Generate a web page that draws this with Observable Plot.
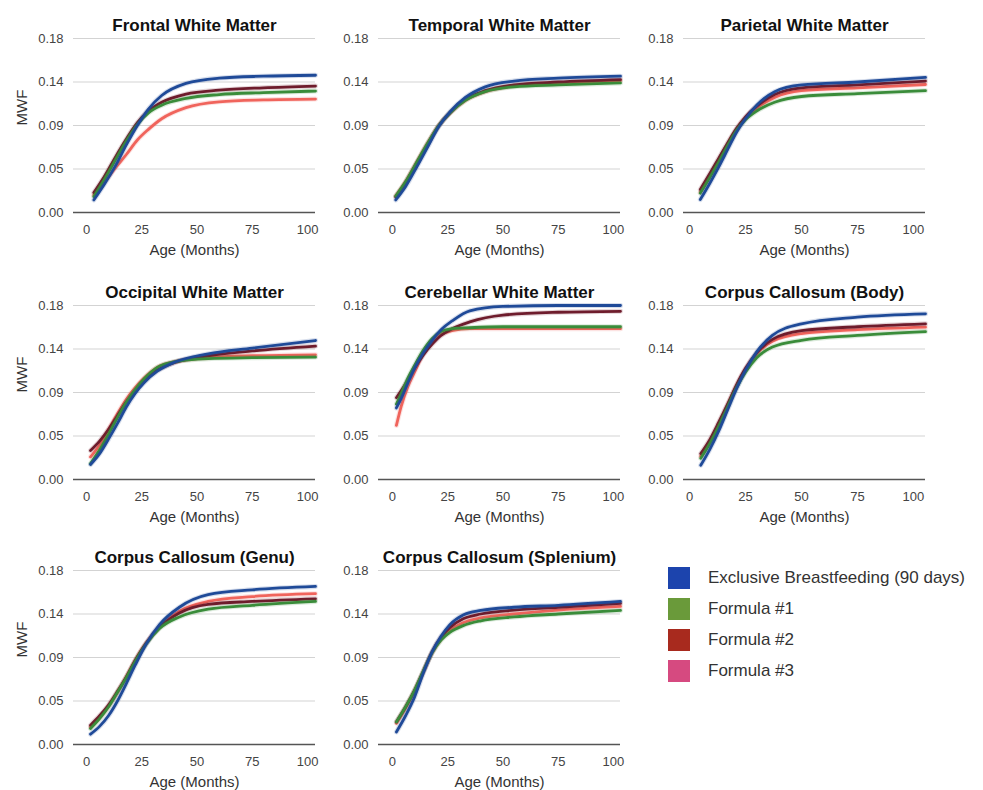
<!DOCTYPE html>
<html>
<head>
<meta charset="utf-8">
<script src="https://cdn.jsdelivr.net/npm/d3@7"></script>
<script src="https://cdn.jsdelivr.net/npm/@observablehq/plot@0.6"></script>
<style>
  body { margin: 0; background: #fff; font-family: "Liberation Sans", Arial, Helvetica, sans-serif; }
  #root { position: relative; width: 983px; height: 790px; overflow: hidden; background: #fff; }
  .panel { position: absolute; }
  .panel svg { overflow: visible; }
  #legend { position: absolute; left: 668px; top: 567px; }
  .lg-swatch { margin-bottom: 9px !important; padding-bottom: 0 !important; color: #333; }
  .lg-swatch svg { margin-right: 18px !important; }
</style>
</head>
<body>
<div id="root"><div id="legend"></div></div>
<script>
// ---------- data ----------
const seriesNames = ["Exclusive Breastfeeding (90 days)", "Formula #1", "Formula #2", "Formula #3"];
const legendColors = ["#1c44ad", "#6a9a3a", "#a82a1e", "#d64a80"];
const lineColors = ["#1f4a98", "#3a8c3a", "#6e1c2c", "#f0645c"];

const yTicks = [0, 0.045, 0.09, 0.135, 0.18];
const yTickLabels = ["0.00", "0.05", "0.09", "0.14", "0.18"];
const xTicks = [0, 25, 50, 75, 100];

const regionTitles = [
  "Frontal White Matter", "Temporal White Matter", "Parietal White Matter",
  "Occipital White Matter", "Cerebellar White Matter", "Corpus Callosum (Body)",
  "Corpus Callosum (Genu)", "Corpus Callosum (Splenium)"
];

// each region: ages, then [EBF, F1, F2, F3] MWF values
const frontalAges = [3.3, 8, 13, 18, 23, 28, 34, 45, 60, 80, 103.6];
const frontal = [
  [0.013, 0.029, 0.048, 0.070, 0.090, 0.107, 0.121, 0.1335, 0.139, 0.141, 0.142],
  [0.0165, 0.034, 0.054, 0.074, 0.091, 0.103, 0.111, 0.118, 0.122, 0.124, 0.1256],
  [0.0206, 0.037, 0.057, 0.076, 0.093, 0.105, 0.114, 0.1225, 0.1265, 0.129, 0.1308],
  [0.018, 0.031, 0.046, 0.060, 0.075, 0.086, 0.097, 0.1085, 0.1145, 0.1165, 0.1173]
];

const temporalAges = [1.5, 6, 11, 16, 21, 26, 33, 42, 55, 75, 103.2];
const temporal = [
  [0.013, 0.027, 0.047, 0.068, 0.089, 0.104, 0.119, 0.130, 0.136, 0.139, 0.141],
  [0.017, 0.032, 0.052, 0.072, 0.090, 0.103, 0.116, 0.125, 0.130, 0.132, 0.134],
  [0.016, 0.031, 0.051, 0.071, 0.090, 0.103, 0.117, 0.126, 0.132, 0.135, 0.1375],
  [0.017, 0.032, 0.052, 0.072, 0.090, 0.103, 0.116, 0.125, 0.131, 0.134, 0.1365]
];

const parietalAges = [4.8, 9, 13, 17, 21, 25, 30, 38, 50, 75, 105.4];
const parietal = [
  [0.0134, 0.030, 0.047, 0.065, 0.083, 0.097, 0.111, 0.125, 0.132, 0.135, 0.1397],
  [0.020, 0.036, 0.052, 0.069, 0.085, 0.096, 0.105, 0.114, 0.120, 0.123, 0.126],
  [0.0238, 0.040, 0.056, 0.072, 0.087, 0.099, 0.110, 0.122, 0.129, 0.132, 0.136],
  [0.021, 0.037, 0.053, 0.070, 0.086, 0.098, 0.108, 0.119, 0.126, 0.129, 0.1324]
];

const occipitalAges = [1.8, 6, 10, 14, 18, 22, 26, 32, 40, 55, 75, 103.6];
const occipital = [
  [0.0155, 0.027, 0.042, 0.058, 0.075, 0.089, 0.100, 0.112, 0.1215, 0.130, 0.136, 0.1438],
  [0.0165, 0.031, 0.047, 0.064, 0.080, 0.093, 0.104, 0.116, 0.122, 0.125, 0.126, 0.1266],
  [0.030, 0.040, 0.052, 0.066, 0.080, 0.092, 0.102, 0.113, 0.121, 0.128, 0.133, 0.138],
  [0.0234, 0.036, 0.052, 0.068, 0.083, 0.095, 0.105, 0.116, 0.122, 0.126, 0.128, 0.129]
];

const cerebellarAges = [1.8, 4, 7, 10, 14, 18, 22, 27, 35, 50, 75, 103.2];
const cerebellar = [
  [0.074, 0.084, 0.100, 0.115, 0.131, 0.144, 0.155, 0.164, 0.1745, 0.179, 0.180, 0.180],
  [0.078, 0.089, 0.105, 0.118, 0.134, 0.146, 0.153, 0.156, 0.157, 0.158, 0.158, 0.158],
  [0.0846, 0.092, 0.103, 0.115, 0.129, 0.140, 0.149, 0.156, 0.163, 0.170, 0.173, 0.174],
  [0.056, 0.076, 0.096, 0.111, 0.130, 0.143, 0.150, 0.154, 0.156, 0.156, 0.156, 0.156]
];

const bodyAges = [5, 9, 13, 17, 21, 25, 30, 37, 50, 75, 105.4];
const body = [
  [0.0148, 0.031, 0.050, 0.072, 0.094, 0.113, 0.132, 0.149, 0.161, 0.168, 0.1714],
  [0.022, 0.037, 0.055, 0.075, 0.095, 0.111, 0.126, 0.137, 0.144, 0.149, 0.153],
  [0.0268, 0.041, 0.059, 0.078, 0.098, 0.115, 0.131, 0.145, 0.154, 0.158, 0.161],
  [0.024, 0.039, 0.057, 0.077, 0.097, 0.114, 0.130, 0.143, 0.151, 0.155, 0.1576]
];

const genuAges = [1.8, 6, 10, 14, 18, 22, 27, 33, 42, 55, 75, 103.6];
const genu = [
  [0.0107, 0.019, 0.030, 0.045, 0.063, 0.082, 0.104, 0.124, 0.142, 0.155, 0.160, 0.1635],
  [0.0165, 0.027, 0.039, 0.054, 0.069, 0.086, 0.104, 0.120, 0.132, 0.140, 0.144, 0.148],
  [0.020, 0.030, 0.041, 0.055, 0.070, 0.087, 0.105, 0.121, 0.136, 0.145, 0.148, 0.1507],
  [0.018, 0.028, 0.040, 0.054, 0.070, 0.087, 0.105, 0.122, 0.138, 0.148, 0.153, 0.156]
];

const spleniumAges = [1.8, 6, 10, 14, 18, 22, 26, 32, 40, 55, 75, 103.2];
const splenium = [
  [0.013, 0.030, 0.049, 0.074, 0.096, 0.112, 0.124, 0.134, 0.1387, 0.142, 0.144, 0.148],
  [0.0234, 0.039, 0.056, 0.076, 0.095, 0.108, 0.116, 0.123, 0.128, 0.132, 0.135, 0.1387],
  [0.0234, 0.039, 0.056, 0.076, 0.096, 0.111, 0.121, 0.130, 0.135, 0.139, 0.142, 0.146],
  [0.022, 0.038, 0.055, 0.075, 0.095, 0.109, 0.118, 0.126, 0.131, 0.135, 0.139, 0.1428]
];

const regionAges = [frontalAges, temporalAges, parietalAges, occipitalAges, cerebellarAges, bodyAges, genuAges, spleniumAges];
const regionValues = [frontal, temporal, parietal, occipital, cerebellar, body, genu, splenium];

// ---------- layout ----------
const colLeft = [0, 305, 610];
const rowTop = [0, 267, 532];
const colXDomain = [[-5.9, 103.6], [-6.3, 103.2], [-2.7, 105.4]];
const FONT = '"Liberation Sans", Arial, Helvetica, sans-serif';
const drawOrder = [3, 2, 1, 0];

const root = document.getElementById("root");

regionTitles.forEach((title, i) => {
  const col = i % 3, row = Math.floor(i / 3);
  const ages = regionAges[i];
  const vals = regionValues[i];
  const rows = [];
  vals.forEach((arr, s) => arr.forEach((v, k) => rows.push({age: ages[k], mwf: v, series: seriesNames[s], s})));

  const marks = [
    Plot.ruleY(yTicks.slice(1), {stroke: "#d3d3d3", strokeWidth: 1}),
    Plot.ruleY([0], {stroke: "#555", strokeWidth: 1.6}),
    Plot.axisX({ticks: xTicks, tickSize: 0, tickPadding: 12, fontSize: 13, fill: "#444", label: null}),
    Plot.axisY({ticks: yTicks, tickSize: 0, tickPadding: 10, fontSize: 13, fill: "#444", label: null,
      tickFormat: d => yTickLabels[yTicks.indexOf(d)]}),
  ];
  drawOrder.forEach(s => {
    const d = rows.filter(r => r.s === s);
    marks.push(Plot.line(d, {x: "age", y: "mwf", stroke: "series", strokeWidth: 5, strokeOpacity: 0.18, curve: "monotone-x"}));
    marks.push(Plot.line(d, {x: "age", y: "mwf", stroke: "series", strokeWidth: 2.8, curve: "monotone-x"}));
  });
  marks.push(Plot.text([title], {frameAnchor: "top", dy: -20, fontSize: 17, fontWeight: "bold", fill: "#111"}));
  marks.push(Plot.text(["Age (Months)"], {frameAnchor: "bottom", dy: 42, fontSize: 15, fill: "#333"}));
  if (col === 0) {
    marks.push(Plot.text(["MWF"], {frameAnchor: "left", dx: -51, rotate: -90, fontSize: 15, fill: "#333"}));
  }

  const chart = Plot.plot({
    width: 325,
    height: 262,
    marginLeft: 73,
    marginRight: 10,
    marginTop: 38,
    marginBottom: 50,
    style: {background: "none", fontFamily: FONT, maxWidth: "none", overflow: "visible"},
    x: {domain: colXDomain[col], axis: null},
    y: {domain: [0, 0.18], axis: null},
    color: {domain: seriesNames, range: lineColors},
    marks
  });
  const div = document.createElement("div");
  div.className = "panel";
  div.style.left = colLeft[col] + "px";
  div.style.top = rowTop[row] + "px";
  div.appendChild(chart);
  root.appendChild(div);
});

const legend = Plot.legend({
  color: {domain: seriesNames, range: legendColors},
  legend: "swatches",
  columns: 1,
  swatchSize: 22,
  className: "lg",
  style: {fontSize: "17px", fontFamily: FONT, color: "#333"}
});
document.getElementById("legend").appendChild(legend);
</script>
</body>
</html>
